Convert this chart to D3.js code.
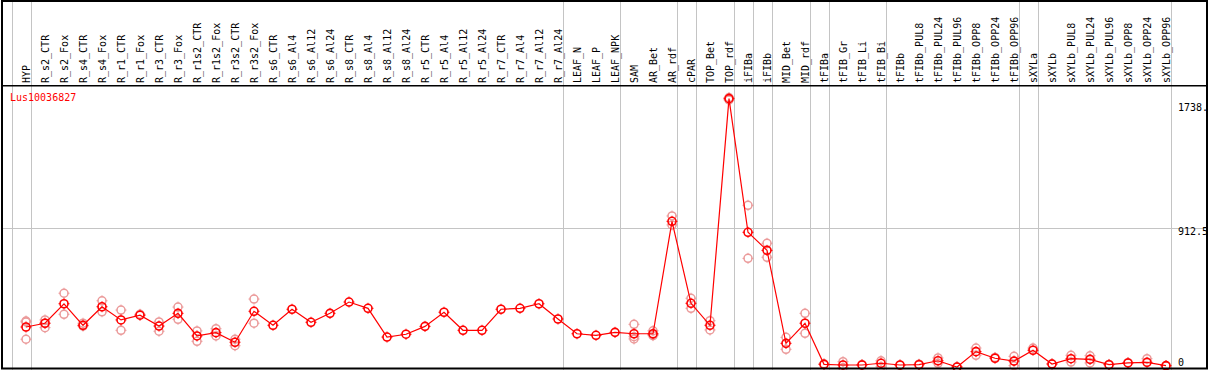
<!DOCTYPE html>
<html>
<head>
<meta charset="utf-8">
<script src="https://cdn.jsdelivr.net/npm/d3@7"></script>
<style>
body { margin: 0; background: #fff; }
text { font-family: "DejaVu Sans Mono", "Liberation Mono", monospace; font-size: 10px; }
</style>
</head>
<body>
<div id="chart"></div>
<script>

var geneName = "Lus10036827";

var categories = ["HYP", "R_s2_CTR", "R_s2_Fox", "R_s4_CTR", "R_s4_Fox", "R_r1_CTR", "R_r1_Fox",
    "R_r3_CTR", "R_r3_Fox", "R_r1s2_CTR", "R_r1s2_Fox", "R_r3s2_CTR", "R_r3s2_Fox",
    "R_s6_CTR", "R_s6_Al4", "R_s6_Al12", "R_s6_Al24", "R_s8_CTR", "R_s8_Al4", "R_s8_Al12", "R_s8_Al24",
    "R_r5_CTR", "R_r5_Al4", "R_r5_Al12", "R_r5_Al24", "R_r7_CTR", "R_r7_Al4", "R_r7_Al12", "R_r7_Al24",
    "LEAF_N", "LEAF_P", "LEAF_NPK", "SAM", "AR_Bet", "AR_rdf", "cPAR", "TOP_Bet", "TOP_rdf",
    "iFIBa", "iFIBb", "MID_Bet", "MID_rdf", "tFIBa", "tFIB_Gr", "tFIB_Li", "tFIB_Bi", "tFIBb",
    "tFIBb_PUL8", "tFIBb_PUL24", "tFIBb_PUL96", "tFIBb_OPP8", "tFIBb_OPP24", "tFIBb_OPP96",
    "sXYLa", "sXYLb", "sXYLb_PUL8", "sXYLb_PUL24", "sXYLb_PUL96", "sXYLb_OPP8", "sXYLb_OPP24", "sXYLb_OPP96"];

// mean expression per sample
var meanValues = [284, 308, 432, 295, 413, 329, 359, 290, 371, 227, 248, 187, 384,
    295, 397, 314, 371, 443, 403, 220, 238, 288, 378, 263, 263, 397, 403, 432, 335,
    241, 231, 250, 241, 241, 957, 435, 295, 1738,
    887, 772, 180, 308, 46, 42, 42, 53, 42,
    44, 69, 29, 127, 85, 67,
    136, 48, 82, 78, 44, 55, 59, 38];

// single replicates (lighter circles)
var replicateValues = [[322, 316, 206], [329, 280, 308], [499, 365], [308, 290], [451, 381],
    [392, 263], [365], [316, 257], [411, 333], [259, 193], [273, 227], [206, 165], [462, 308],
    [], [], [], [], [], [], [], [], [], [], [], [], [], [], [], [],
    [], [], [], [301, 222, 208], [260, 229, 236], [991, 934], [467, 403], [324, 265], [1745, 1730],
    [1059, 721], [817, 728], [218, 142], [371, 244], [50], [63, 25], [45], [69, 31], [40],
    [47], [87, 53], [30], [150, 104], [90], [97, 38],
    [150], [50], [104, 61], [101, 55], [46], [57], [82], [36]];

// group separators are drawn after these samples
var separatorAfter = ["HYP", "R_r7_Al24", "LEAF_NPK", "AR_rdf", "cPAR", "TOP_rdf", "iFIBa", "iFIBb",
    "MID_rdf", "tFIBa", "tFIB_Bi", "tFIBb_OPP96", "sXYLa", "sXYLb_OPP96"];

var axisValues = [0, 912.5, 1738];
var axisLabels = ["0", "912.5", "1738."];


ExpressionVis = function(_parentElement){
    this.parentElement = _parentElement;
    this.initVis();
}

ExpressionVis.prototype.initVis = function(){
    var vis = this;

    vis.width = 1209;
    vis.height = 370;
    vis.headerHeight = 85;

    vis.svg = d3.select("#" + vis.parentElement).append("svg")
        .attr("width", vis.width)
        .attr("height", vis.height)
        .style("display", "block");

    vis.svg.append("rect")
        .attr("width", vis.width)
        .attr("height", vis.height)
        .attr("fill", "#fff");

    vis.x = d3.scalePoint()
        .domain(categories)
        .range([26, 1166]);
    vis.step = vis.x.step();

    // axis top is twice the middle tick
    vis.y = d3.scaleLinear()
        .domain([0, axisValues[1] * 2])
        .range([371.6, vis.headerHeight]);

    // vertical group lines
    var sepX = [vis.x(categories[0]) - vis.step + 4.5].concat(separatorAfter.map(function(c){
        return vis.x(c) + 4.5;
    }));
    vis.svg.append("g")
        .selectAll("line")
        .data(sepX)
        .enter()
        .append("line")
        .attr("x1", function(d){ return Math.round(d) + 0.5; })
        .attr("x2", function(d){ return Math.round(d) + 0.5; })
        .attr("y1", 0)
        .attr("y2", vis.height)
        .attr("stroke", "#c4c4c4")
        .attr("stroke-width", 1);

    // middle horizontal line
    vis.svg.append("line")
        .attr("x1", 1)
        .attr("x2", 1207)
        .attr("y1", Math.round(vis.y(axisValues[1])) + 0.5)
        .attr("y2", Math.round(vis.y(axisValues[1])) + 0.5)
        .attr("stroke", "#c4c4c4")
        .attr("stroke-width", 1);

    // sample labels
    vis.svg.append("g")
        .selectAll("text")
        .data(categories)
        .enter()
        .append("text")
        .text(function(d){ return d; })
        .attr("transform", function(d){
            return "translate(" + (vis.x(d) + 4) + "," + (vis.headerHeight - 2) + ") rotate(-90)";
        })
        .attr("fill", "#000");

    vis.svg.append("text")
        .text(geneName)
        .attr("x", 10)
        .attr("y", 101)
        .attr("fill", "#ff0000");

    // right axis labels
    vis.svg.append("g")
        .selectAll("text")
        .data(axisValues)
        .enter()
        .append("text")
        .text(function(d, i){ return axisLabels[i]; })
        .attr("x", 1178)
        .attr("y", function(d, i){
            var dy = i == 0 ? -6 : (i == 1 ? 7 : 12);
            return vis.y(d) + dy;
        })
        .attr("fill", "#000");

    vis.svg.append("clipPath")
        .attr("id", "plot-clip")
        .append("rect")
        .attr("x", 2)
        .attr("y", vis.headerHeight + 1)
        .attr("width", 1205)
        .attr("height", 370 - vis.headerHeight - 1);

    var plot = vis.svg.append("g")
        .attr("clip-path", "url(#plot-clip)");

    var markerTicks = "M0,-5.5V-3.5M0,3.5V5.5M-5.5,0H-3.5M3.5,0H5.5";

    // replicates
    var repData = [];
    replicateValues.forEach(function(reps, i){
        reps.forEach(function(v){
            repData.push({ cat: categories[i], value: v });
        });
    });

    var repMarks = plot.append("g")
        .selectAll("g")
        .data(repData)
        .enter()
        .append("g")
        .attr("transform", function(d){
            return "translate(" + vis.x(d.cat) + "," + vis.y(d.value) + ")";
        });
    repMarks.append("circle")
        .attr("r", 4)
        .attr("fill", "none")
        .attr("stroke", "#eb9a9a")
        .attr("stroke-width", 1.5);
    repMarks.append("path")
        .attr("d", markerTicks)
        .attr("stroke", "#eb9a9a")
        .attr("stroke-width", 1);

    // mean line
    var line = d3.line()
        .x(function(d, i){ return vis.x(categories[i]); })
        .y(function(d){ return vis.y(d); });

    plot.append("path")
        .datum(meanValues)
        .attr("d", line)
        .attr("fill", "none")
        .attr("stroke", "#ff0000")
        .attr("stroke-width", 1.2);

    var meanMarks = plot.append("g")
        .selectAll("g")
        .data(meanValues)
        .enter()
        .append("g")
        .attr("transform", function(d, i){
            return "translate(" + vis.x(categories[i]) + "," + vis.y(d) + ")";
        });
    meanMarks.append("circle")
        .attr("r", 4)
        .attr("fill", "none")
        .attr("stroke", "#ff0000")
        .attr("stroke-width", 1.6);
    meanMarks.append("path")
        .attr("d", markerTicks)
        .attr("stroke", "#ff0000")
        .attr("stroke-width", 1);

    // frame
    vis.svg.append("line")
        .attr("x1", 1)
        .attr("x2", 1208)
        .attr("y1", vis.headerHeight + 0.75)
        .attr("y2", vis.headerHeight + 0.75)
        .attr("stroke", "#000")
        .attr("stroke-width", 1.5);

    vis.svg.append("rect")
        .attr("x", 2)
        .attr("y", 1)
        .attr("width", 1205)
        .attr("height", 367.5)
        .attr("fill", "none")
        .attr("stroke", "#000")
        .attr("stroke-width", 2);
}

new ExpressionVis("chart");

</script>
</body>
</html>
